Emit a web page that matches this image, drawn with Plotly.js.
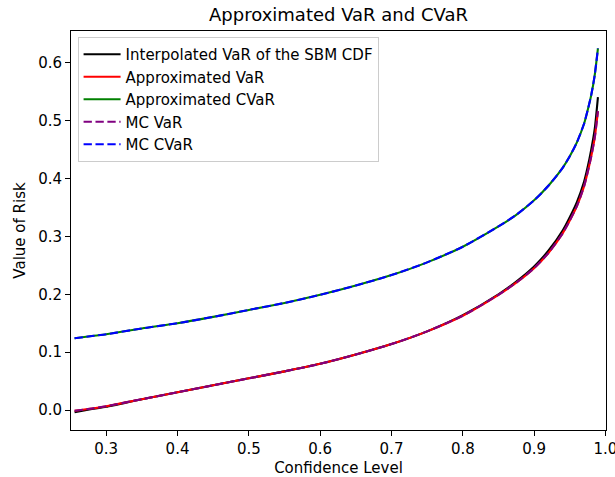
<!DOCTYPE html>
<html>
<head>
<meta charset="utf-8">
<script src="https://cdn.plot.ly/plotly-3.0.1.min.js"></script>
<style>html,body{margin:0;padding:0;background:#fff;}#chart{width:615px;height:477px;}</style>
</head>
<body>
<div id="chart"></div>
<script>
// Confidence levels (x)
var confidence = [0.2556, 0.28, 0.30, 0.35, 0.40, 0.45, 0.50, 0.55, 0.60, 0.65, 0.70, 0.75, 0.80, 0.85, 0.875, 0.90, 0.92, 0.94, 0.95, 0.96, 0.97, 0.975, 0.98, 0.985, 0.9895];
// Interpolated VaR of the SBM CDF
var interpVaR = [-0.0035, 0.002, 0.006, 0.019, 0.031, 0.043, 0.055, 0.067, 0.080, 0.096, 0.114, 0.136, 0.164, 0.200, 0.222, 0.248, 0.275, 0.310, 0.333, 0.359, 0.394, 0.419, 0.449, 0.485, 0.540];
// Approximated VaR
var approxVaR = [-0.001, 0.003, 0.007, 0.019, 0.031, 0.043, 0.055, 0.067, 0.080, 0.096, 0.114, 0.136, 0.163, 0.199, 0.220, 0.245, 0.271, 0.305, 0.327, 0.352, 0.386, 0.410, 0.437, 0.470, 0.516];
// Approximated CVaR
var approxCVaR = [0.124, 0.128, 0.131, 0.141, 0.150, 0.161, 0.173, 0.185, 0.199, 0.215, 0.233, 0.255, 0.282, 0.317, 0.337, 0.362, 0.387, 0.418, 0.438, 0.462, 0.494, 0.517, 0.543, 0.578, 0.624];
// Monte Carlo VaR
var mcVaR = [-0.001, 0.003, 0.007, 0.019, 0.031, 0.043, 0.055, 0.067, 0.080, 0.096, 0.114, 0.136, 0.163, 0.199, 0.220, 0.245, 0.271, 0.305, 0.327, 0.352, 0.386, 0.410, 0.437, 0.470, 0.516];
// Monte Carlo CVaR
var mcCVaR = [0.124, 0.128, 0.131, 0.141, 0.150, 0.161, 0.173, 0.185, 0.199, 0.215, 0.233, 0.255, 0.282, 0.317, 0.337, 0.362, 0.387, 0.418, 0.438, 0.462, 0.494, 0.517, 0.543, 0.578, 0.624];

var seriesNames = ["Interpolated VaR of the SBM CDF", "Approximated VaR", "Approximated CVaR", "MC VaR", "MC CVaR"];
var xTickVals = [0.3, 0.4, 0.5, 0.6, 0.7, 0.8, 0.9, 1.0];
var yTickVals = [0.0, 0.1, 0.2, 0.3, 0.4, 0.5, 0.6];

var FONT = "DejaVu Sans, Verdana, sans-serif";
var FS = 15;
var dashStyle = "8.3px,3.6px";

function tr(y, name, color, dash) {
  return {
    x: confidence, y: y, name: name, type: "scatter", mode: "lines",
    line: {color: color, width: 2.1, dash: dash, shape: "spline", smoothing: 0.6}
  };
}

var data = [
  tr(interpVaR, seriesNames[0], "#000000", "solid"),
  tr(approxVaR, seriesNames[1], "#ff0000", "solid"),
  tr(approxCVaR, seriesNames[2], "#008000", "solid"),
  tr(mcVaR, seriesNames[3], "#800080", dashStyle),
  tr(mcCVaR, seriesNames[4], "#0000ff", dashStyle)
];

var layout = {
  width: 615, height: 477,
  margin: {l: 71, r: 9, t: 31, b: 47, pad: 0},
  paper_bgcolor: "#ffffff", plot_bgcolor: "#ffffff",
  font: {family: FONT, size: FS, color: "#000000"},
  title: {text: "Approximated VaR and CVaR", font: {family: FONT, size: 18, color: "#000000"},
          x: 0.5, xref: "paper", xanchor: "center", y: 1 - 15/477, yref: "container", yanchor: "middle"},
  showlegend: true,
  legend: {x: 0.0123, y: 0.985, xanchor: "left", yanchor: "top", traceorder: "normal",
           bgcolor: "rgba(255,255,255,0.8)", bordercolor: "#cccccc", borderwidth: 1,
           font: {family: FONT, size: FS, color: "#000000"}, itemwidth: 37},
  xaxis: {
    range: [0.2506, 1.0008], showgrid: false, zeroline: false,
    showline: true, linecolor: "#000000", linewidth: 1, mirror: true,
    ticks: "outside", ticklen: 5, tickwidth: 1, tickcolor: "#000000",
    tickvals: xTickVals, tickformat: ".1f", ticklabeloverflow: "allow",
    tickfont: {family: FONT, size: FS, color: "#000000"},
    title: {text: "Confidence Level", font: {family: FONT, size: FS, color: "#000000"}, standoff: 6},
    automargin: false
  },
  yaxis: {
    range: [-0.0341, 0.654], showgrid: false, zeroline: false,
    showline: true, linecolor: "#000000", linewidth: 1, mirror: true,
    ticks: "outside", ticklen: 5, tickwidth: 1, tickcolor: "#000000",
    tickvals: yTickVals, tickformat: ".1f",
    tickfont: {family: FONT, size: FS, color: "#000000"},
    title: {text: "Value of Risk", font: {family: FONT, size: FS, color: "#000000"}, standoff: 8},
    automargin: false
  }
};

Plotly.newPlot("chart", data, layout, {displayModeBar: false, staticPlot: true});
</script>
</body>
</html>
